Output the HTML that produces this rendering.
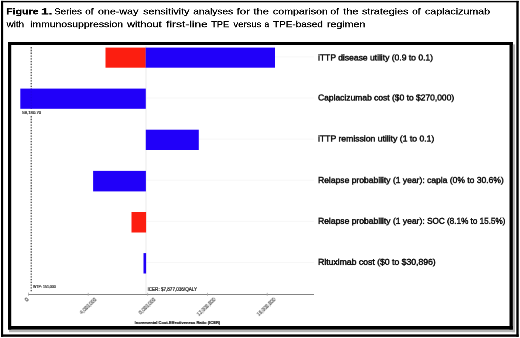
<!DOCTYPE html>
<html><head><meta charset="utf-8">
<style>
html,body{margin:0;padding:0;background:#fff;}
body{width:520px;height:338px;position:relative;overflow:hidden;font-family:"Liberation Sans",sans-serif;color:#000;}
.a{position:absolute;}
.title{will-change:transform;left:6px;-webkit-text-stroke:0.9px #000;font-size:35.2px;line-height:52px;white-space:nowrap;color:#000;transform-origin:0 0;}
.lab{left:318px;-webkit-text-stroke:0.95px #111;will-change:transform;font-size:16.6px;line-height:20px;white-space:nowrap;color:#111;transform-origin:0 0;transform:scaleX(1.066);}
.tiny{white-space:nowrap;color:#111;font-size:20px;line-height:20px;transform-origin:0 0;will-change:transform;-webkit-text-stroke:0.8px #111;}
.rot{font-size:20px;line-height:20px;white-space:nowrap;color:#2a2a2a;will-change:transform;-webkit-text-stroke:0.25px #2a2a2a;transform-origin:100% 50%;transform:translate(-100%,-50%) rotate(-44deg) scale(0.236);}
</style></head><body>
<!-- frame + chart shapes -->
<svg class="a" style="left:0;top:0" width="520" height="338" viewBox="0 0 520 338">
<!-- outer frame -->
<rect x="1" y="0.9" width="2.1" height="335.9" fill="#000"/>
<rect x="1" y="0.9" width="517.7" height="1.4" fill="#000"/>
<rect x="516.3" y="0.9" width="2.4" height="335.9" fill="#000"/>
<rect x="1" y="334.4" width="517.7" height="2.4" fill="#000"/>
<!-- shadow -->
<rect x="512" y="44.4" width="3" height="287.8" fill="#b4b4b4"/>
<rect x="9" y="329" width="506" height="3.2" fill="#b4b4b4"/>
<!-- inner frame -->
<rect x="8" y="42" width="3.2" height="287.5" fill="#000"/>
<rect x="8" y="42" width="504.8" height="3" fill="#000"/>
<rect x="509.5" y="42" width="3.3" height="287.5" fill="#000"/>
<rect x="8" y="326" width="504.8" height="3.5" fill="#000"/>
<!-- grid lines -->
<g fill="#f7f7f7">
<rect x="275" y="56.4" width="39" height="1"/>
<rect x="146" y="97.5" width="168" height="1"/>
<rect x="199" y="138.6" width="115" height="1"/>
<rect x="146" y="179.7" width="168" height="1"/>
<rect x="146" y="220.8" width="168" height="1"/>
<rect x="146" y="261.9" width="168" height="1"/>
</g>
<!-- centre line -->
<rect x="145.5" y="46" width="1" height="248.5" fill="#ebebeb"/>
<!-- dotted WTP line -->
<line x1="31.2" y1="47" x2="31.2" y2="291" stroke="#f0f0f0" stroke-width="1"/>
<line x1="31.2" y1="47.1" x2="31.2" y2="291.5" stroke="#2a2a2a" stroke-width="1.05" stroke-dasharray="1.3 1.46"/>
<rect x="21.5" y="108.8" width="20" height="6.2" fill="#fff"/>
<!-- bars -->
<rect x="105.5" y="47.6" width="40.3" height="20.1" fill="#fc1e10"/>
<rect x="145.7" y="47.6" width="129.3" height="20.1" fill="#2100f9"/>
<rect x="20.3" y="88.6" width="125.5" height="20.2" fill="#2100f9"/>
<rect x="145.8" y="129.7" width="53" height="20.3" fill="#2100f9"/>
<rect x="93.1" y="170.9" width="52.8" height="20.5" fill="#2100f9"/>
<rect x="131.5" y="212" width="14.6" height="20.5" fill="#fc1e10"/>
<rect x="143.5" y="253.1" width="2.6" height="20.4" fill="#2100f9"/>
<!-- faint dotted over bar 2 -->
<line x1="31.2" y1="88.6" x2="31.2" y2="108.8" stroke="#000" stroke-opacity="0.1" stroke-width="1" stroke-dasharray="1.3 1.46"/>
<!-- axis -->
<rect x="28" y="294.1" width="286" height="0.9" fill="#777"/>
<g fill="#aaa">
<rect x="28" y="292.6" width="0.8" height="3.2"/>
<rect x="87.8" y="292.8" width="0.8" height="3"/>
<rect x="147.3" y="292.8" width="0.8" height="3"/>
<rect x="207" y="292.8" width="0.8" height="3"/>
<rect x="266.8" y="292.8" width="0.8" height="3"/>
</g>
</svg>
<!-- title -->
<div class="a title" style="top:5px;left:6px;font-weight:bold;transform:translate(0.13px,-0.1px) scale(0.3013,0.25)">Figure</div>
<div class="a title" style="top:5px;left:40px;font-weight:bold;transform:translate(0.94px,-0.1px) scale(0.3917,0.25)">1.</div>
<div class="a title" style="top:5px;left:54px;transform:translate(0.08px,-0.1px) scale(0.2788,0.25)">Series</div>
<div class="a title" style="top:5px;left:85px;transform:translate(0.17px,-0.1px) scale(0.2837,0.25)">of</div>
<div class="a title" style="top:5px;left:97px;transform:translate(0.95px,-0.1px) scale(0.3043,0.25)">one-way</div>
<div class="a title" style="top:5px;left:143px;transform:translate(0.16px,-0.1px) scale(0.3030,0.25)">sensitivity</div>
<div class="a title" style="top:5px;left:193px;transform:translate(0.23px,-0.1px) scale(0.2870,0.25)">analyses</div>
<div class="a title" style="top:5px;left:236px;transform:translate(0.55px,-0.1px) scale(0.3273,0.25)">for</div>
<div class="a title" style="top:5px;left:253px;transform:translate(0.47px,-0.1px) scale(0.3166,0.25)">the</div>
<div class="a title" style="top:5px;left:272px;transform:translate(0.87px,-0.1px) scale(0.3025,0.25)">comparison</div>
<div class="a title" style="top:5px;left:330px;transform:translate(0.28px,-0.1px) scale(0.3005,0.25)">of</div>
<div class="a title" style="top:5px;left:343px;transform:translate(0.23px,-0.1px) scale(0.3123,0.25)">the</div>
<div class="a title" style="top:5px;left:361px;transform:translate(0.97px,-0.1px) scale(0.3043,0.25)">strategies</div>
<div class="a title" style="top:5px;left:412px;transform:translate(0.17px,-0.1px) scale(0.2837,0.25)">of</div>
<div class="a title" style="top:5px;left:424px;transform:translate(0.96px,-0.1px) scale(0.3025,0.25)">caplacizumab</div>
<div class="a title" style="top:18px;left:6px;transform:translate(0.62px,-0.25px) scale(0.2784,0.25)">with</div>
<div class="a title" style="top:18px;left:30px;transform:translate(0.16px,-0.25px) scale(0.2950,0.25)">immunosuppression</div>
<div class="a title" style="top:18px;left:127px;transform:translate(0.13px,-0.25px) scale(0.3093,0.25)">without</div>
<div class="a title" style="top:18px;left:166px;transform:translate(0.07px,-0.25px) scale(0.3382,0.25)">first-line</div>
<div class="a title" style="top:18px;left:211px;transform:translate(0.21px,-0.25px) scale(0.2610,0.25)">TPE</div>
<div class="a title" style="top:18px;left:233px;transform:translate(0.42px,-0.25px) scale(0.2696,0.25)">versus</div>
<div class="a title" style="top:18px;left:264px;transform:translate(0.35px,-0.25px) scale(0.2474,0.25)">a</div>
<div class="a title" style="top:18px;left:273px;transform:translate(0.06px,-0.25px) scale(0.2825,0.25)">TPE-based</div>
<div class="a title" style="top:18px;left:326px;transform:translate(0.92px,-0.25px) scale(0.3019,0.25)">regimen</div>
<!-- labels -->
<div class="a lab" style="top:52px;transform:translateY(0.95px) scale(0.5138,0.5)">iTTP disease utility (0.9 to 0.1)</div>
<div class="a lab" style="top:92px;transform:translateY(1.00px) scale(0.5109,0.5)">Caplacizumab cost ($0 to $270,000)</div>
<div class="a lab" style="top:133px;transform:translateY(1.00px) scale(0.5195,0.5)">iTTP remission utility (1 to 0.1)</div>
<div class="a lab" style="top:174px;transform:translateY(1.50px) scale(0.5138,0.5)">Relapse probability (1 year): capla (0% to 30.6%)</div>
<div class="a lab" style="top:216px;transform:translateY(0.30px) scale(0.5138,0.5)">Relapse probability (1 year):</div>
<div class="a lab" style="top:216px;left:427px;transform:translate(0.1px,0.30px) scale(0.4907,0.5)">SOC (8.1% to 15.5%)</div>
<div class="a lab" style="top:257px;transform:translateY(0.30px) scale(0.5210,0.5)">Rituximab cost ($0 to $30,896)</div>
<!-- tiny text -->
<div class="a tiny" id="t59" style="left:22px;top:109px;transform:translate(0.2px,1.1px) scale(0.2135)">59,180.70</div>
<div class="a tiny" id="twtp" style="left:33px;top:284px;transform:translate(0px,0.6px) scale(0.1785)">WTP: 151,000</div>
<div class="a tiny" id="ticer" style="left:147px;top:286px;transform:translate(0.5px,1.4px) scale(0.2287)">ICER: $7,877,036/QALY</div>
<div class="a tiny" id="tinc" style="left:134px;top:320px;transform:translate(0.5px,0.4px) scale(0.204);font-weight:bold">Incremental Cost-Effectiveness Ratio (ICER)</div>
<!-- tick labels: right-centre anchored -->
<div class="a rot" style="left:28.4px;top:299.4px;-webkit-text-stroke:0.9px #222">0</div>
<div class="a rot" style="left:95.6px;top:299.3px">4,000,000</div>
<div class="a rot" style="left:155px;top:299.3px">8,000,000</div>
<div class="a rot" style="left:214.8px;top:299.3px">12,000,000</div>
<div class="a rot" style="left:274.5px;top:299.3px">16,000,000</div>
</body></html>
